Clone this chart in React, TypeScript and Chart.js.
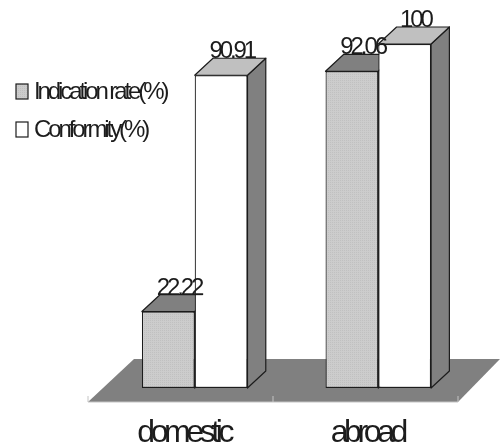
import React, { useEffect, useRef } from "react";
import { Chart, registerables } from "chart.js";

Chart.register(...registerables);

const categories = ["domestic", "abroad"];
const indicationRate = [22.22, 92.06];
const conformity = [90.91, 100];
const seriesNames = ["Indication rate(%)", "Conformity(%)"];

const INK = "#1c1c1c";
const FLOOR = "#808080";
const LIGHT_FACE = "#c0c0c0";
const DEPTH_X = 18.3;
const DEPTH_Y = 17;
const FONT = '"Liberation Sans", Arial, sans-serif';

function speckle(): CanvasPattern | string {
  const tile = document.createElement("canvas");
  tile.width = 2;
  tile.height = 2;
  const c = tile.getContext("2d");
  if (!c) return "#c8c8c8";
  c.fillStyle = "#cccccc";
  c.fillRect(0, 0, 2, 2);
  c.fillStyle = "#c0c0c0";
  c.fillRect(0, 0, 1, 1);
  return c.createPattern(tile, "repeat") ?? "#c8c8c8";
}

function poly(ctx: CanvasRenderingContext2D, pts: number[][], fill: string) {
  ctx.beginPath();
  pts.forEach(([x, y], i) => (i ? ctx.lineTo(x, y) : ctx.moveTo(x, y)));
  ctx.closePath();
  ctx.fillStyle = fill;
  ctx.fill();
  ctx.stroke();
}

// Floor plate plus the receding top and side faces behind each bar.
const depthFaces = {
  id: "depthFaces",
  beforeDraw(chart: Chart) {
    (chart.ctx as any).letterSpacing = "-4.4px";
  },
  beforeDatasetsDraw(chart: Chart) {
    const { ctx, chartArea, scales } = chart;
    const base = scales.y.getPixelForValue(0);
    const frontY = base + 14;
    const backY = base - 29;
    const fl = chartArea.left - 14.9;
    const fr = chartArea.right - 12.1;
    const mid = (fl + fr) / 2;
    ctx.save();
    ctx.fillStyle = FLOOR;
    ctx.beginPath();
    ctx.moveTo(fl, frontY);
    ctx.lineTo(fr, frontY);
    ctx.lineTo(fr + 42, backY);
    ctx.lineTo(fl + 46, backY);
    ctx.closePath();
    ctx.fill();
    ctx.strokeStyle = "#c4c4c4";
    ctx.lineWidth = 1;
    ctx.beginPath();
    ctx.moveTo(fl, frontY);
    ctx.lineTo(fr, frontY);
    [fl, mid, fr].forEach((x) => {
      ctx.moveTo(x, frontY);
      ctx.lineTo(x, frontY - 6);
    });
    ctx.stroke();

    ctx.strokeStyle = INK;
    ctx.lineWidth = 1.2;
    ctx.lineJoin = "round";
    chart.data.datasets.forEach((_, d) => {
      chart.getDatasetMeta(d).data.forEach((el: any) => {
        const l = el.x - el.width / 2;
        const r = el.x + el.width / 2;
        const t = el.y;
        poly(ctx, [[r, t], [r + DEPTH_X, t - DEPTH_Y], [r + DEPTH_X, base - DEPTH_Y], [r, base]], FLOOR);
        poly(
          ctx,
          [[l, t], [r, t], [r + DEPTH_X, t - DEPTH_Y], [l + DEPTH_X, t - DEPTH_Y]],
          d === 0 ? FLOOR : LIGHT_FACE
        );
      });
    });
    ctx.restore();
  },
  afterDatasetsDraw(chart: Chart) {
    const { ctx } = chart;
    ctx.save();

    // The short bar's back edge runs on a little across its neighbour.
    const shortBar: any = chart.getDatasetMeta(0).data[0];
    const edgeX = shortBar.x + shortBar.width / 2;
    const edgeY = shortBar.y - DEPTH_Y;
    ctx.strokeStyle = INK;
    ctx.lineWidth = 1.2;
    ctx.beginPath();
    ctx.moveTo(edgeX, edgeY);
    ctx.lineTo(edgeX + 8, edgeY);
    ctx.stroke();

    ctx.fillStyle = INK;
    ctx.textAlign = "center";
    ctx.textBaseline = "alphabetic";
    ctx.font = `24px ${FONT}`;
    (ctx as any).letterSpacing = "-3.1px";
    chart.data.datasets.forEach((ds, d) => {
      chart.getDatasetMeta(d).data.forEach((el: any, i: number) => {
        ctx.fillText(String(ds.data[i]), el.x + 10.7, el.y - 17);
      });
    });

    // Series key to the left of the bars.
    ctx.textAlign = "left";
    ctx.font = `24px ${FONT}`;
    (ctx as any).letterSpacing = "-3.1px";
    chart.data.datasets.forEach((ds, d) => {
      const top = 84 + d * 38;
      ctx.fillStyle = ds.backgroundColor as any;
      ctx.fillRect(16, top, 12, 15);
      ctx.strokeRect(16, top, 12, 15);
      ctx.fillStyle = INK;
      ctx.fillText(String(ds.label), 34, top + 15);
    });
    ctx.restore();
  },
};

export default function App() {
  const ref = useRef<HTMLCanvasElement>(null);

  useEffect(() => {
    document.body.style.margin = "0";
    const canvas = ref.current;
    if (!canvas) return;
    const chart = new Chart(canvas, {
      type: "bar",
      data: {
        labels: categories,
        datasets: [
          { label: seriesNames[0], data: indicationRate, backgroundColor: speckle() as any },
          { label: seriesNames[1], data: conformity, backgroundColor: "#ffffff" },
        ],
      },
      options: {
        responsive: false,
        animation: false,
        layout: { padding: { left: 102.9, right: 29.9, top: 44, bottom: 0 } },
        datasets: {
          bar: {
            categoryPercentage: 0.575,
            barPercentage: 1,
            borderColor: INK,
            borderWidth: 1.2,
            borderSkipped: false,
          },
        },
        plugins: { legend: { display: false }, tooltip: { enabled: false } },
        scales: {
          y: { display: false, min: 0, max: 100 },
          x: {
            afterFit: (s: any) => {
              s.height = 55;
            },
            border: { display: false },
            grid: { display: false },
            ticks: {
              color: INK,
              padding: 18,
              labelOffset: -11,
              maxRotation: 0,
              font: { family: FONT, size: 32 },
            },
          },
        },
      },
      plugins: [depthFaces as any],
    });
    return () => chart.destroy();
  }, []);

  return <canvas ref={ref} width={500} height={443} style={{ display: "block" }} />;
}
